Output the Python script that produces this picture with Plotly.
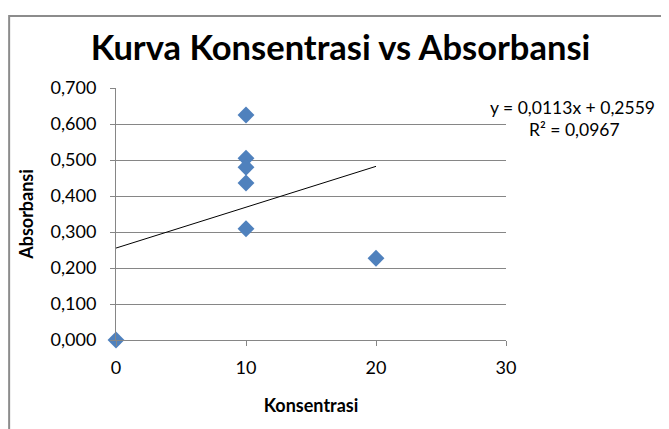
import numpy as np
import plotly.graph_objects as go

konsentrasi = [0, 10, 10, 10, 10, 10, 20]
absorbansi = [0.000, 0.625, 0.505, 0.480, 0.436, 0.309, 0.227]
y_ticks = [0.0, 0.1, 0.2, 0.3, 0.4, 0.5, 0.6, 0.7]
x_ticks = [0, 10, 20, 30]
eq_text = "y = 0,0113x + 0,2559"
r2_text = "R² = 0,0967"

FONT = "Lato, 'Open Sans', sans-serif"

slope, intercept = np.polyfit(konsentrasi, absorbansi, 1)
trend_x = [min(konsentrasi), max(konsentrasi)]
trend_y = [slope * x + intercept for x in trend_x]

fig = go.Figure()
fig.add_trace(
    go.Scatter(
        x=trend_x,
        y=trend_y,
        mode="lines",
        line=dict(color="#000000", width=1),
        hoverinfo="skip",
    )
)
fig.add_trace(
    go.Scatter(
        x=konsentrasi,
        y=absorbansi,
        mode="markers",
        marker=dict(symbol="diamond", size=13, color="#4f81bd"),
        cliponaxis=False,
    )
)

# outer chart frame
fig.add_shape(
    type="rect",
    xref="paper", yref="paper",
    x0=-0.274, y0=-0.40, x1=1.45, y1=1.286,
    line=dict(color="#8c8c8c", width=2),
    layer="below",
)

fig.add_annotation(
    text=eq_text, xref="paper", yref="paper", x=1.17, y=0.921,
    xanchor="center", yanchor="middle", showarrow=False,
    font=dict(family=FONT, size=17.5, color="#000"),
)
fig.add_annotation(
    text=r2_text, xref="paper", yref="paper", x=1.175, y=0.834,
    xanchor="center", yanchor="middle", showarrow=False,
    font=dict(family=FONT, size=17.5, color="#000"),
)

# page body keeps its default 8px margin, so margins are trimmed by 8px
fig.update_layout(
    width=669,
    height=429,
    showlegend=False,
    separators=",.",
    paper_bgcolor="white",
    plot_bgcolor="white",
    margin=dict(l=108, r=171, t=80, b=97),
    font=dict(family=FONT, color="#000"),
    title=dict(
        text="<b>Kurva Konsentrasi vs Absorbansi</b>",
        x=0.497, xanchor="center", y=0.907, yanchor="middle",
        font=dict(family=FONT, size=34.5, color="#000"),
    ),
    xaxis=dict(
        range=[0, 30],
        tickvals=x_ticks,
        ticks="outside",
        ticklen=5,
        tickcolor="#868686",
        showgrid=False,
        zeroline=False,
        showline=True,
        linecolor="#868686",
        automargin=False,
        ticklabelstandoff=6,
        tickfont=dict(size=18),
        title=dict(text="<b>Konsentrasi</b>", font=dict(size=18), standoff=22),
    ),
    yaxis=dict(
        range=[0, 0.7],
        tickvals=y_ticks,
        tickformat=".3f",
        ticks="outside",
        ticklen=5,
        tickcolor="#868686",
        showgrid=True,
        gridcolor="#868686",
        gridwidth=1,
        zeroline=False,
        showline=True,
        linecolor="#868686",
        automargin=False,
        ticklabelstandoff=10,
        tickfont=dict(size=18),
        title=dict(text="<b>Absorbansi</b>", font=dict(size=18), standoff=12),
    ),
)

fig.write_html("out.html")
